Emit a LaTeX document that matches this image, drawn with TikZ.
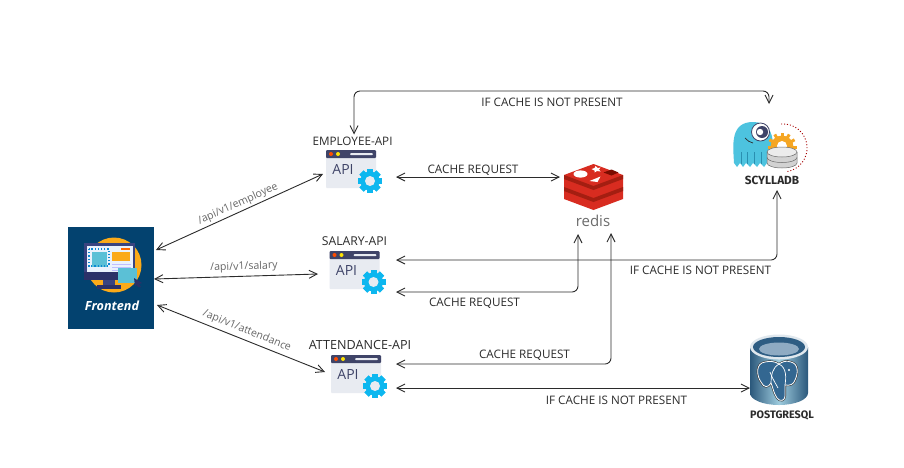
\documentclass[tikz,border=0pt]{standalone}
\usepackage{fontspec}
\setmainfont{Open Sans}
\newfontfamily\heavyfont{Fira Sans}
\usetikzlibrary{arrows.meta,calc}
\definecolor{ink}{HTML}{2B2B2B}
\definecolor{apigrey}{HTML}{666666}
\definecolor{navy}{HTML}{03426F}
\definecolor{cardbg}{HTML}{E8EBF1}
\definecolor{cardhead}{HTML}{3F4468}
\definecolor{gearblue}{HTML}{0DB7EF}
\definecolor{redisa}{HTML}{A41E11}
\definecolor{redisb}{HTML}{D82C20}
\definecolor{redisc}{HTML}{7A0C00}
\definecolor{scyblue}{HTML}{4DC3DF}
\definecolor{scydark}{HTML}{2A8FB0}
\definecolor{scygear}{HTML}{F5A623}
\definecolor{pgblue}{HTML}{336791}
\definecolor{monbody}{HTML}{3A4480}
\definecolor{mondark}{HTML}{2B3168}
\definecolor{screen}{HTML}{EAF2FC}
\definecolor{tealbox}{HTML}{5BC0D6}
\definecolor{amber}{HTML}{FBAA19}
\tikzset{
  x=1pt,y=-1pt,
  anchorbox/.style={rectangle,inner sep=0pt,outer sep=0pt},
  link/.style={draw=ink,line width=0.9pt,{Straight Barb[length=8pt,width=8pt]}-{Straight Barb[length=8pt,width=8pt]},rounded corners=6pt},
  caption/.style={text=ink,font=\fontsize{11.7}{13}\selectfont,inner sep=0pt},
  route/.style={text=apigrey,font=\fontsize{10.6}{12}\selectfont,inner sep=0pt},
  dbname/.style={text=ink,font=\heavyfont\bfseries\fontsize{10.8}{12}\selectfont,inner sep=0pt},
  apiicon/.pic={
    \fill[cardbg,rounded corners=1pt] (0,0) rectangle (50,38);
    \fill[cardhead,rounded corners=1pt] (0,0) rectangle (50,8);
    \fill[orange!60!red] (5,4) circle (2);
    \fill[yellow!85!orange] (12,4) circle (2);
    \fill[cardbg,rounded corners=1pt] (24,3) rectangle (47,5);
    \node[text=cardhead,font=\fontsize{14}{15}\selectfont,inner sep=0pt] (-txt) at (17,19.5) {API};
    \fill[gearblue] (44,31) circle (9.5);
    \foreach \a in {0,45,...,315}
      \fill[gearblue,rotate around={\a:(44,31)}] (41,19) rectangle (47,43);
    \fill[cardbg] (44,31) circle (5);
  },
}
\begin{document}
\begin{tikzpicture}
\useasboundingbox (0,0) rectangle (904,467);
\fill[white] (0,0) rectangle (904,467);

% ---------- anchors / nodes
\node[anchorbox,fill=navy,minimum width=86pt,minimum height=102pt] (front) at (111,278) {};
\node[anchorbox,minimum width=73pt,minimum height=40pt] (emp) at (359.5,170) {};
\node[anchorbox,minimum width=78pt,minimum height=56pt] (sal) at (357,276) {};
\node[anchorbox,minimum width=71pt,minimum height=44pt] (att) at (360.5,376) {};
\node[anchorbox,minimum width=66pt,minimum height=73pt] (redis) at (593,196.5) {};
\node[anchorbox,minimum width=90pt,minimum height=86pt] (scylla) at (770,147) {};
\node[anchorbox,minimum width=58pt,minimum height=74pt] (pg) at (779,370) {};
\coordinate (topmid) at (560,91);

% ---------- frontend icon
\fill[amber] (114,265) circle (27.5);
\fill[monbody] (84,243) rectangle (135,272);
\fill[mondark] (84,272) rectangle (135,280);
\fill[screen] (87,246) rectangle (133,272);
\fill[monbody] (103,280) rectangle (115,286);
\fill[mondark] (97,285) rectangle (121,288.5);
\fill[tealbox] (92,252) rectangle (107,267);
\draw[cyan!70!blue,line width=1.2pt,dotted] (89,249) rectangle (109,266);
\fill[amber] (112,252) rectangle (130,261);
\fill[orange!80!red] (121,248) rectangle (130,250);
\foreach \yy in {264,267,270} \fill[blue!25!white] (112,\yy) rectangle (131,\yy+1);
\fill[tealbox] (118,268) rectangle (137,283);
\fill[mondark] (134,278) -- (142,283) -- (139,284) -- (141,287) -- (138,287) -- (137,285) -- (135,286) -- cycle;
\node[text=white,font=\bfseries\itshape\fontsize{12.6}{14}\selectfont,inner sep=0pt] (fronttxt) at (112,306) {Frontend};

% ---------- API icons
\path (326,150) pic (empicon) {apiicon};
\path (329.5,251) pic (salicon) {apiicon};
\path (331,355) pic (aticon) {apiicon};
\node[caption] (emplbl) at (352.5,141) {EMPLOYEE-API};
\node[caption,font=\fontsize{12.2}{13}\selectfont] (sallbl) at (354.5,241) {SALARY-API};
\node[caption,font=\fontsize{12.6}{14}\selectfont] (attlbl) at (360,345) {ATTENDANCE-API};

% ---------- redis
\fill[redisb] (564,175) -- (593.5,164) -- (623,175) -- (623,199) -- (593.5,210) -- (564,199) -- cycle;
\fill[redisa] (564,175) -- (593.5,186) -- (623,175) -- (623,179) -- (593.5,190) -- (564,179) -- cycle;
\fill[redisa] (564,187) -- (593.5,198) -- (623,187) -- (623,191) -- (593.5,202) -- (564,191) -- cycle;
\begin{scope}[shift={(593.5,175)}]
  \fill[white] (-13,-1) ellipse (7 and 3.6);
  \fill[white] (2,-9) -- (4,-7) -- (7,-7.5) -- (5.5,-5.5) -- (7,-3.5) -- (3.5,-4) -- (1,-2.5) -- (1,-4.5) -- (-2,-6) -- (1,-7) -- cycle;
  \fill[white] (-4,6) -- (7,1.5) -- (4,7) -- cycle;
  \fill[redisc] (10,-2.5) -- (18,-5.5) -- (25,-2.5) -- (18,0.5) -- cycle;
\end{scope}
\node[text=gray!85!black,font=\fontsize{15}{16}\selectfont,inner sep=0pt] (redistxt) at (593,220.5) {redis};

% ---------- scylla
\draw[red!65!black,line width=0.9pt,dash pattern=on 1pt off 2pt] (781,124) arc (-95:80:24 and 24);
\fill[scyblue] (734,163) .. controls (733,145) and (730,122) .. (753,122)
  .. controls (767,122) and (773,131) .. (773,146) -- (772,162)
  -- (770,166) -- (767,163) -- (764,167) -- (760,163) -- (757,167) -- (753,163) -- (750,167) -- (746,163) -- (743,167) -- (740,163) -- (737,167) -- cycle;
\foreach \xx in {741,747,754,761} \draw[scydark,line width=0.5pt] (\xx,152) -- (\xx,164);
\draw[ink,line width=0.7pt] (745,138) .. controls (747,141) and (750,142) .. (753,143);
\fill[white] (760.5,132) circle (9);
\draw[cardhead,line width=0.8pt] (760.5,132) circle (9);
\fill[cardhead] (762,132) circle (6);
\fill[white] (760,132) circle (3.2);
\fill[scygear] (782,147) circle (11.5);
\foreach \a in {0,30,...,150} \fill[scygear,rotate around={\a:(782,147)}] (780.5,132.5) rectangle (783.5,161.5);
\fill[white] (782,146) circle (5);
\fill[gray!35] (767,152) rectangle (797,163);
\fill[gray!35] (782,163) ellipse (15 and 5);
\fill[gray!15] (782,152) ellipse (15 and 5);
\draw[ink!70,line width=0.5pt] (767,152) -- (767,163) arc (180:0:15 and 5) -- (797,152);
\draw[ink!70,line width=0.5pt] (782,152) ellipse (15 and 5);
\draw[ink!70,line width=0.5pt] (767,157.5) arc (180:0:15 and 5);
\node[dbname,font=\heavyfont\bfseries\fontsize{11.8}{13}\selectfont] (scytxt) at (772,180) {SCYLLADB};

% ---------- postgres
\shade[left color=pgblue!85!black,right color=pgblue!85!black,middle color=blue!15!cyan!20!white!70!pgblue]
  (750,347) -- (750,393) arc (180:0:29 and 12) -- (808,347) -- cycle;
\fill[white!85!pgblue] (779,347) ellipse (29 and 12.5);
\fill[pgblue!90!black] (779,347) ellipse (26 and 10);
\fill[pgblue!55!white] (779,349) ellipse (20 and 6.5);
\filldraw[fill=pgblue,draw=white,line width=0.8pt,line join=round,preaction={draw=black!80,line width=2pt}]
  (765,362) .. controls (756,363) and (756,375) .. (761,382)
  .. controls (764,388) and (768,388) .. (771,383)
  .. controls (773,387) and (773,392) .. (777,398)
  .. controls (780,402) and (785,401) .. (785,396)
  -- (785,385)
  .. controls (790,386) and (794,384) .. (795,380)
  .. controls (798,374) and (799,364) .. (791,362)
  .. controls (786,360) and (782,362) .. (779,364)
  .. controls (774,361) and (770,361) .. (765,362) -- cycle;
\draw[white,line width=0.7pt] (779,364) .. controls (772,368) and (771,376) .. (771,383);
\draw[white,line width=0.7pt] (779,364) .. controls (787,368) and (786,378) .. (785,385);
\draw[white,line width=0.7pt] (770,372) .. controls (773,380) and (776,384) .. (778,388);
\fill[white] (789,370) circle (1.1);
\node[dbname] (pgtxt) at (782,415) {POSTGRESQL};

% ---------- connectors
\draw[link] ([xshift=2pt,yshift=28pt]front.east) -- ([yshift=-4pt]emp.west);
\draw[link] ([yshift=-1pt]front.east) -- ([yshift=2pt]sal.west);
\draw[link] ([xshift=3pt,yshift=-27pt]front.east) -- ([yshift=4pt]att.west);
\draw[link] ([xshift=1.5pt,yshift=2pt]emplbl.north) |- (topmid) -| ([xshift=-1pt]scylla.north);
\draw[link] ([yshift=-7pt]emp.east) -- ([yshift=19.5pt]redis.west);
\draw[link] ([yshift=16pt]sal.east) -| ([xshift=7pt]scylla.south);
\draw[link] ([yshift=-16pt]sal.east) -| ([xshift=-15pt,yshift=-1pt]redis.south);
\draw[link] ([yshift=12pt]att.east) -| ([xshift=18pt]redis.south);
\draw[link] ([yshift=-12pt]att.east) -- ([yshift=-18pt]pg.west);

% ---------- labels
\node[route,rotate=24.5] (r1) at (238,204) {/api/v1/employee};
\node[route,rotate=2] (r2) at (244,267) {/api/v1/salary};
\node[route,rotate=-22] (r3) at (247,331) {/api/v1/attendance};
\node[caption] (c1) at (473,170) {CACHE REQUEST};
\node[caption] (c2) at (474.5,303) {CACHE REQUEST};
\node[caption] (c3) at (524.5,355) {CACHE REQUEST};
\node[caption] (m1) at (552,102) {IF CACHE IS NOT PRESENT};
\node[caption] (m2) at (700.5,270) {IF CACHE IS NOT PRESENT};
\node[caption] (m3) at (616.5,400) {IF CACHE IS NOT PRESENT};
\end{tikzpicture}
\end{document}
